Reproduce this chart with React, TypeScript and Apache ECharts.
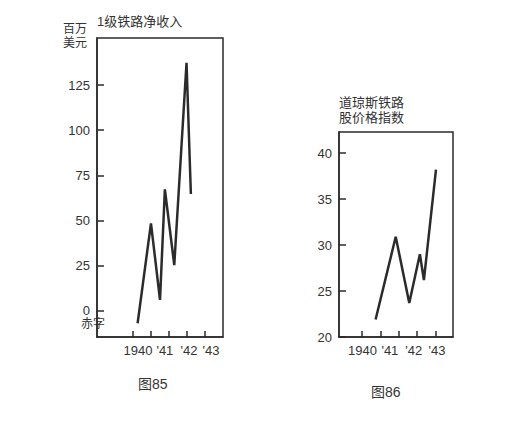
import React, { useEffect, useRef } from "react";
import * as echarts from "echarts";

// Chart 85: Class I railroads net income (million dollars)
const incomeYears = [1940.27, 1941.01, 1941.51, 1941.78, 1942.3, 1942.98, 1943.22];
const incomeValues = [-6.8, 48.5, 6.1, 67.3, 25.4, 137.3, 64.7];
const incomeTicks = [0, 25, 50, 75, 100, 125];

// Chart 86: Dow Jones railroad stock price index
const dowYears = [1940.73, 1941.83, 1942.57, 1943.15, 1943.37, 1944.03];
const dowValues = [21.9, 30.9, 23.7, 29.0, 26.2, 38.2];
const dowTicks = [20, 25, 30, 35, 40];

const yearTicks = [1940, 1941, 1942, 1943, 1944];
const yearLabels = ["1940", "'41", "'42", "'43"];
// where the printed year labels sit along each time axis
const incomeLabelAt = [1940.29, 1941.78, 1943.11, 1944.33];
const dowLabelAt = [1940.01, 1941.51, 1942.82, 1944.08];

const title1 = "1级铁路净收入";
const unit1 = ["百万", "美元"];
const deficit = "赤字";
const caption1 = "图85";
const title2 = ["道琼斯铁路", "股价格指数"];
const caption2 = "图86";

const FONT = "'Liberation Sans', 'Noto Sans CJK SC', sans-serif";
const INK = "#2b2b2b";
const TXT = "#333";

function pairs(xs: number[], ys: number[]) {
  return xs.map((x, i) => [x, ys[i]]);
}

function labelFor(at: number[]) {
  return (v: number) => {
    let best = 0;
    at.forEach((a, i) => {
      if (Math.abs(a - v) < Math.abs(at[best] - v)) best = i;
    });
    return yearLabels[best] ?? "";
  };
}

export default function App() {
  const ref = useRef<HTMLDivElement>(null);
  useEffect(() => {
    if (!ref.current) return;
    const chart = echarts.init(ref.current, null, { renderer: "svg" });
    const yLabel = { color: TXT, fontSize: 13, fontFamily: FONT, margin: 7 };
    const timeAxis = (gridIndex: number, min: number, max: number, labelAt: number[]) => ({
      type: "value", gridIndex, min, max, position: "bottom",
      axisLine: { show: true, onZero: false, lineStyle: { color: INK, width: 1.5 } },
      splitLine: { show: false },
      axisTick: { show: true, inside: false, length: -6, customValues: yearTicks, lineStyle: { color: INK, width: 1.5 } },
      axisLabel: {
        show: true, customValues: labelAt, formatter: labelFor(labelAt),
        color: TXT, fontSize: 13, fontFamily: FONT, margin: 7,
      },
      z: 5,
    });
    const valueAxis = (gridIndex: number, min: number, max: number, ticks: number[]) => ({
      type: "value", gridIndex, min, max, position: "left",
      axisLine: { show: true, onZero: false, lineStyle: { color: INK, width: 1.5 } },
      splitLine: { show: false },
      axisTick: { show: true, inside: true, length: 7, customValues: ticks, lineStyle: { color: INK, width: 1.5 } },
      axisLabel: { ...yLabel, customValues: ticks },
    });
    const option: any = {
      animation: false,
      backgroundColor: "#fff",
      grid: [
        { left: 97, top: 38, width: 126, height: 299, show: true, borderColor: INK, borderWidth: 1.5 },
        { left: 339, top: 132, width: 114, height: 205, show: true, borderColor: INK, borderWidth: 1.5 },
      ],
      xAxis: [
        timeAxis(0, 1938.02, 1945, incomeLabelAt),
        timeAxis(1, 1938.73, 1944.96, dowLabelAt),
      ],
      yAxis: [
        valueAxis(0, -14.4, 151, incomeTicks),
        valueAxis(1, 20, 42.3, dowTicks),
      ],
      series: [
        {
          type: "line", xAxisIndex: 0, yAxisIndex: 0, data: pairs(incomeYears, incomeValues),
          symbol: "none", lineStyle: { color: INK, width: 2.5 }, silent: true,
        },
        {
          type: "line", xAxisIndex: 1, yAxisIndex: 1, data: pairs(dowYears, dowValues),
          symbol: "none", lineStyle: { color: INK, width: 2.5 }, silent: true,
        },
      ],
      graphic: [
        { type: "text", left: 97, top: 15, style: { text: title1, fill: TXT, font: `13px ${FONT}` } },
        { type: "text", left: 63, top: 23, style: { text: unit1[0], fill: TXT, font: `12px ${FONT}` } },
        { type: "text", left: 63, top: 37, style: { text: unit1[1], fill: TXT, font: `12px ${FONT}` } },
        { type: "text", left: 81, top: 318, style: { text: deficit, fill: TXT, font: `12px ${FONT}` } },
        { type: "text", left: 138, top: 377, style: { text: caption1, fill: TXT, font: `14px ${FONT}` } },
        { type: "text", left: 339, top: 96, style: { text: title2[0], fill: TXT, font: `13px ${FONT}` } },
        { type: "text", left: 339, top: 111, style: { text: title2[1], fill: TXT, font: `13px ${FONT}` } },
        { type: "text", left: 371, top: 385, style: { text: caption2, fill: TXT, font: `14px ${FONT}` } },
      ],
    };
    chart.setOption(option);
    return () => chart.dispose();
  }, []);
  return (
    <div
      ref={ref}
      style={{ position: "fixed", left: 0, top: 0, width: 527, height: 427, background: "#fff" }}
    />
  );
}
